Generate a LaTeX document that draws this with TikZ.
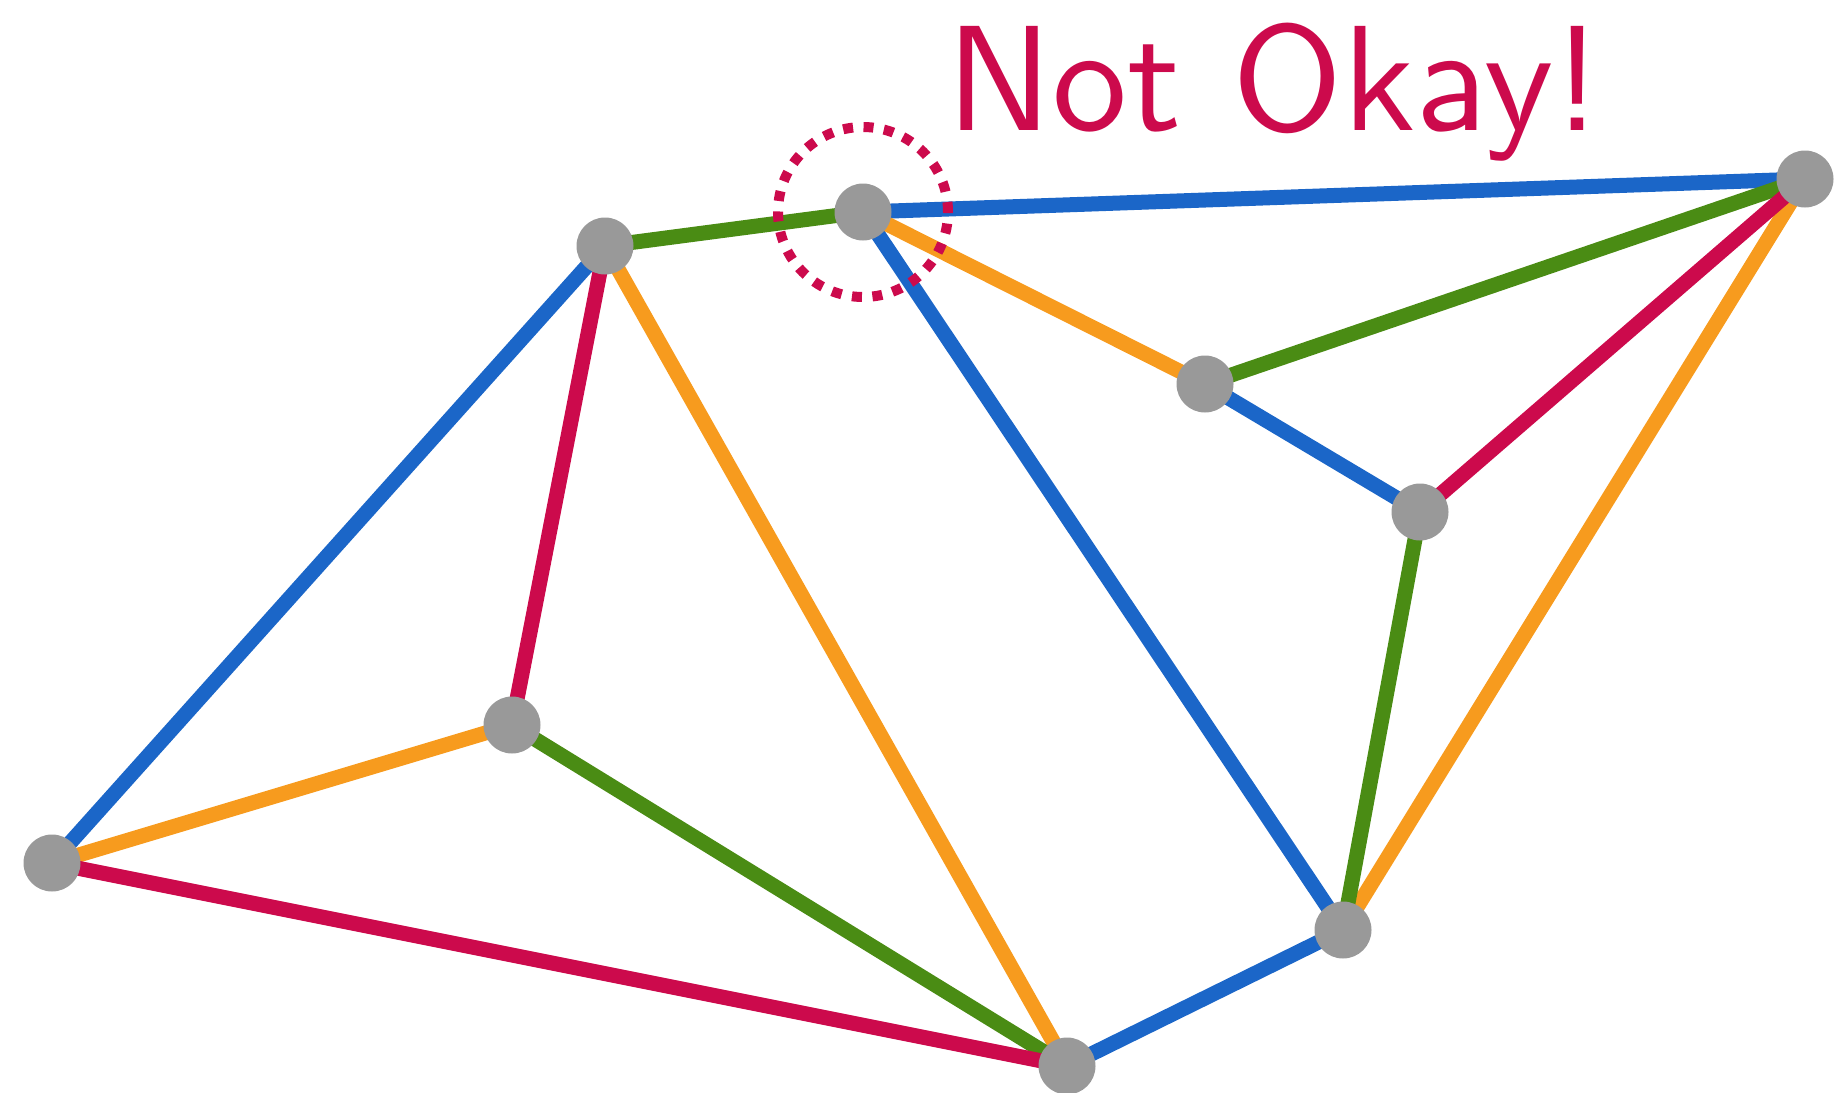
\documentclass[tikz,border=0pt]{standalone}
\usepackage{xcolor}
\definecolor{mapblue}{HTML}{1B66C8}
\definecolor{maporange}{HTML}{F79B1E}
\definecolor{mapgreen}{HTML}{4A8C14}
\definecolor{mapred}{HTML}{CC0A4C}
\definecolor{mapgray}{HTML}{999999}
\usepackage{tikz}
\usetikzlibrary{positioning,backgrounds}

\begin{document}
\begin{tikzpicture}[x=0.1mm,y=-0.1mm,
  vtx/.style={circle,fill=mapgray,minimum size=5.7mm,inner sep=0pt},
  eblue/.style={draw=mapblue,line width=1.5mm},
  eorange/.style={draw=maporange,line width=1.5mm},
  egreen/.style={draw=mapgreen,line width=1.5mm},
  ered/.style={draw=mapred,line width=1.5mm}]
\useasboundingbox (0,0) rectangle (1834,1093);
\node[vtx] (A) at (52,863) {};
\node[vtx] (B) at (605,246) {};
\node[vtx] (C) at (863,212) {};
\node[vtx] (D) at (1805,179) {};
\node[vtx] (E) at (1205,384) {};
\node[vtx] (F) at (1420,512) {};
\node[vtx] (G) at (512,725) {};
\node[vtx] (H) at (1067,1066) {};
\node[vtx] (I) at (1343,930) {};
\begin{scope}[on background layer]
\draw[eblue] (C.center) -- (D.center) (C.center) -- (I.center) (E.center) -- (F.center)
  (I.center) -- (H.center) (B.center) -- (A.center);
\draw[eorange] (C.center) -- (E.center) (D.center) -- (I.center) (B.center) -- (H.center)
  (G.center) -- (A.center);
\draw[egreen] (B.center) -- (C.center) (E.center) -- (D.center) (F.center) -- (I.center)
  (G.center) -- (H.center);
\draw[ered] (F.center) -- (D.center) (B.center) -- (G.center) (A.center) -- (H.center);
\end{scope}
\node[circle,draw=mapred,line width=1mm,dash pattern=on 1mm off 1.05mm,
  minimum size=17mm,inner sep=0pt] (ring) at (C) {};
\node[anchor=base west,inner sep=0pt,text=mapred,font=\sffamily] (label) at (946,130)
  {\scalebox{4.27}{\fontsize{10}{12}\selectfont Not Okay!}};
\end{tikzpicture}
\end{document}
